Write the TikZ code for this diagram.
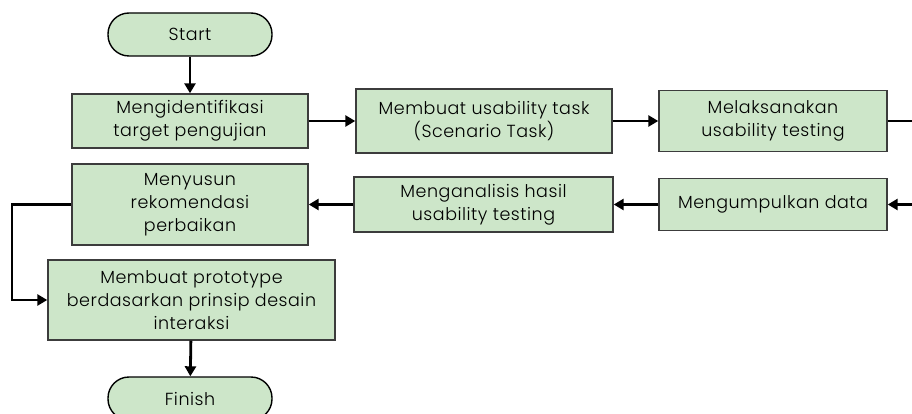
\documentclass[tikz,border=0pt]{standalone}
\usepackage{fontspec}
\setmainfont{Poppins Light}[LetterSpace=3]
\usetikzlibrary{arrows.meta}
\definecolor{boxgreen}{RGB}{205,230,201}
\definecolor{boxline}{RGB}{60,60,60}

\begin{document}
\begin{tikzpicture}[x=1pt,y=-1pt,
	font=\fontsize{17.5}{23}\selectfont,
	process/.style={draw=boxline,line width=1.4pt,fill=boxgreen,align=center,inner sep=0pt},
	terminal/.style={draw=black,line width=1.4pt,fill=boxgreen,rounded corners=21pt,
		minimum width=164pt,minimum height=43pt,inner sep=0pt},
	flow/.style={line width=2.8pt,-{Triangle[length=10pt,width=11pt]}}]
\useasboundingbox (0,0) rectangle (912,414);
\node[terminal] (start) at (190,34.5) {Start};
\node[process,minimum width=236pt,minimum height=54pt] (ident) at (190,121) {Mengidentifikasi\\target pengujian};
\node[process,minimum width=256pt,minimum height=64pt] (task) at (484,121) {Membuat usability task\\(Scenario Task)};
\node[process,minimum width=228pt,minimum height=61pt] (test) at (773,121) {Melaksanakan\\usability testing};
\node[process,minimum width=228pt,minimum height=52pt] (data) at (773,204.5) {Mengumpulkan data};
\node[process,minimum width=259pt,minimum height=55pt] (anal) at (483.5,204.5) {Menganalisis hasil\\usability testing};
\node[process,minimum width=236pt,minimum height=81pt] (rekom) at (190,204.5) {Menyusun\\rekomendasi\\perbaikan};
\node[process,minimum width=287pt,minimum height=80pt] (proto) at (191.5,300) {Membuat prototype\\berdasarkan prinsip desain\\interaksi};
\node[terminal] (finish) at (190,398.5) {Finish};
\coordinate (outa) at (914,121);
\coordinate (outb) at (914,204.5);
\draw[flow] (start) -- (ident);
\draw[flow] (ident) -- (task);
\draw[flow] (task) -- (test);
\draw[line width=2.8pt] (test) -- (outa);
\draw[flow] (outb) -- (data);
\draw[flow] (data) -- (anal);
\draw[flow] (anal) -- (rekom);
\draw[flow] (rekom.west) -| (12,250) |- (proto.west);
\draw[flow] (proto) -- (finish);
\end{tikzpicture}
\end{document}
